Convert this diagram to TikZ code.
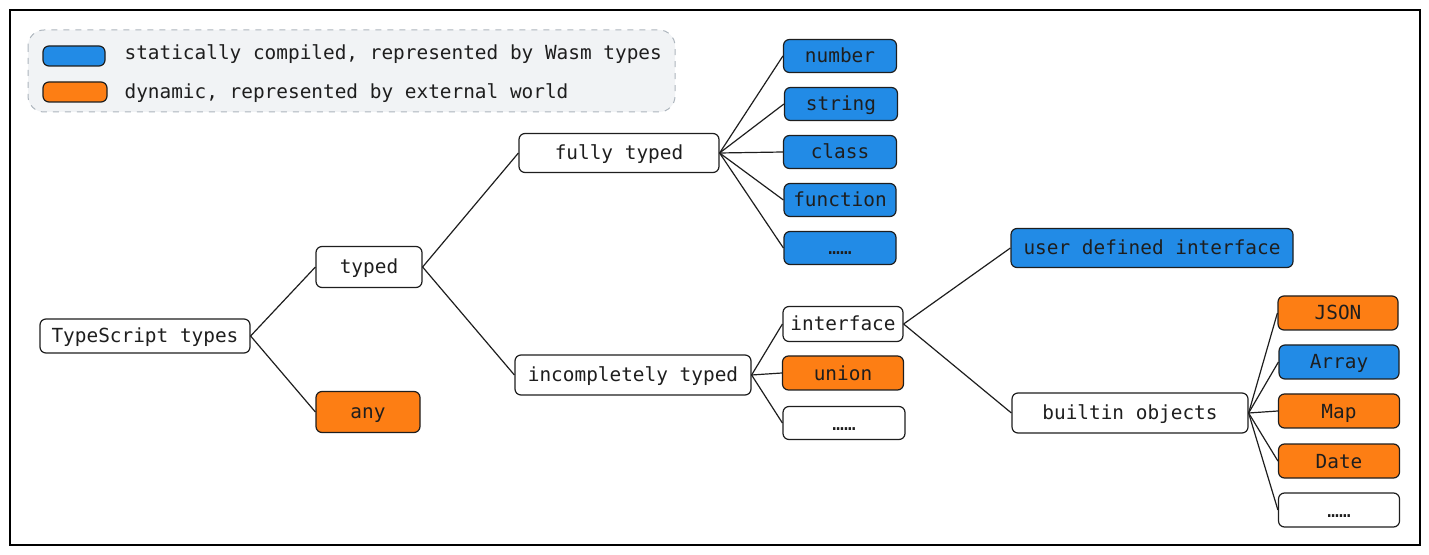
\documentclass[tikz,border=0pt]{standalone}
\usepackage{fontspec}
\setmonofont{DejaVu Sans Mono}
\usepackage{tikz}
\usetikzlibrary{positioning}
\definecolor{wasmblue}{HTML}{228BE6}
\definecolor{dynorange}{HTML}{FD7E14}
\definecolor{inkgray}{HTML}{1E1E1E}
\definecolor{legendbg}{HTML}{F1F3F5}
\definecolor{legendline}{HTML}{ADB5BD}

\begin{document}
\begin{tikzpicture}[x=0.5pt,y=-0.5pt,line width=0.6pt]

  \tikzstyle{whiteboxnode}=[draw=inkgray,fill=white,rounded corners=3pt,text=inkgray,
                            font=\ttfamily\fontsize{9.7}{12}\selectfont,inner sep=0pt,
                            text height=8.5pt,text depth=1.5pt]
  \tikzstyle{blueboxnode}=[whiteboxnode,fill=wasmblue]
  \tikzstyle{orangeboxnode}=[whiteboxnode,fill=dynorange]
  \tikzstyle{legendtext}=[anchor=west,text=inkgray,font=\ttfamily\fontsize{9.7}{12}\selectfont,
                          inner sep=0pt,text height=8.5pt,text depth=1.5pt]

  \useasboundingbox (0,0) rectangle (1429,555);
  \draw[line width=0.7pt] (10,10) rectangle (1420,545);

  % legend
  \draw[legendline,fill=legendbg,dashed,rounded corners=8pt,line width=0.5pt] (28,30) rectangle (675,112);
  \node[blueboxnode,minimum width=31pt,minimum height=10pt]   (lblue)   at (74,56) {};
  \node[orangeboxnode,minimum width=32pt,minimum height=10pt] (lorange) at (75,92) {};
  \node[legendtext] (tblue)   at (124,53) {statically compiled, represented by Wasm types};
  \node[legendtext] (torange) at (124,92) {dynamic, represented by external world};

  % tree
  \node[whiteboxnode,minimum width=105pt,minimum height=17pt]    (ts)      at (145,336)  {TypeScript types};
  \node[whiteboxnode,minimum width=53pt,minimum height=20.5pt]   (typed)   at (369,267)  {typed};
  \node[orangeboxnode,minimum width=52pt,minimum height=20.5pt]  (any)     at (368,412)  {any};
  \node[whiteboxnode,minimum width=100pt,minimum height=19.5pt]  (full)    at (619,153)  {fully typed};
  \node[whiteboxnode,minimum width=118pt,minimum height=20pt]    (incomp)  at (633,375)  {incompletely typed};

  \node[blueboxnode,minimum width=56.5pt,minimum height=16.5pt]  (num)     at (840,56)   {number};
  \node[blueboxnode,minimum width=56.5pt,minimum height=16.5pt]  (str)     at (841,104)  {string};
  \node[blueboxnode,minimum width=56.5pt,minimum height=16.5pt]  (cls)     at (840,152)  {class};
  \node[blueboxnode,minimum width=56pt,minimum height=16.5pt]    (fun)     at (840,200)  {function};
  \node[blueboxnode,minimum width=56pt,minimum height=16.5pt]    (fdots)   at (840,248)  {……};

  \node[whiteboxnode,minimum width=60pt,minimum height=17.5pt]   (intf)    at (843,324)  {interface};
  \node[orangeboxnode,minimum width=60.5pt,minimum height=17pt]  (union)   at (843,373)  {union};
  \node[whiteboxnode,minimum width=61pt,minimum height=16.5pt]   (idots)   at (844,423)  {……};

  \node[blueboxnode,minimum width=141pt,minimum height=19.5pt]   (udi)     at (1152,248) {user defined interface};
  \node[whiteboxnode,minimum width=118pt,minimum height=20pt]    (builtin) at (1130,413) {builtin objects};

  \node[orangeboxnode,minimum width=60pt,minimum height=17pt]    (json)    at (1338,313) {JSON};
  \node[blueboxnode,minimum width=60pt,minimum height=17pt]      (arr)     at (1339,362) {Array};
  \node[orangeboxnode,minimum width=60.5pt,minimum height=17pt]  (map)     at (1339,411) {Map};
  \node[orangeboxnode,minimum width=60.5pt,minimum height=17pt]  (date)    at (1339,461) {Date};
  \node[whiteboxnode,minimum width=60.5pt,minimum height=17pt]   (bdots)   at (1339,510) {……};

  \path[draw=inkgray] (ts.east)      edge (typed.west)
                      (ts.east)      edge (any.west)
                      (typed.east)   edge (full.west)
                      (typed.east)   edge (incomp.west)
                      (full.east)    edge (num.west)
                      (full.east)    edge (str.west)
                      (full.east)    edge (cls.west)
                      (full.east)    edge (fun.west)
                      (full.east)    edge (fdots.west)
                      (incomp.east)  edge (intf.west)
                      (incomp.east)  edge (union.west)
                      (incomp.east)  edge (idots.west)
                      (intf.east)    edge (udi.west)
                      (intf.east)    edge (builtin.west)
                      (builtin.east) edge (json.west)
                      (builtin.east) edge (arr.west)
                      (builtin.east) edge (map.west)
                      (builtin.east) edge (date.west)
                      (builtin.east) edge (bdots.west);

\end{tikzpicture}
\end{document}
